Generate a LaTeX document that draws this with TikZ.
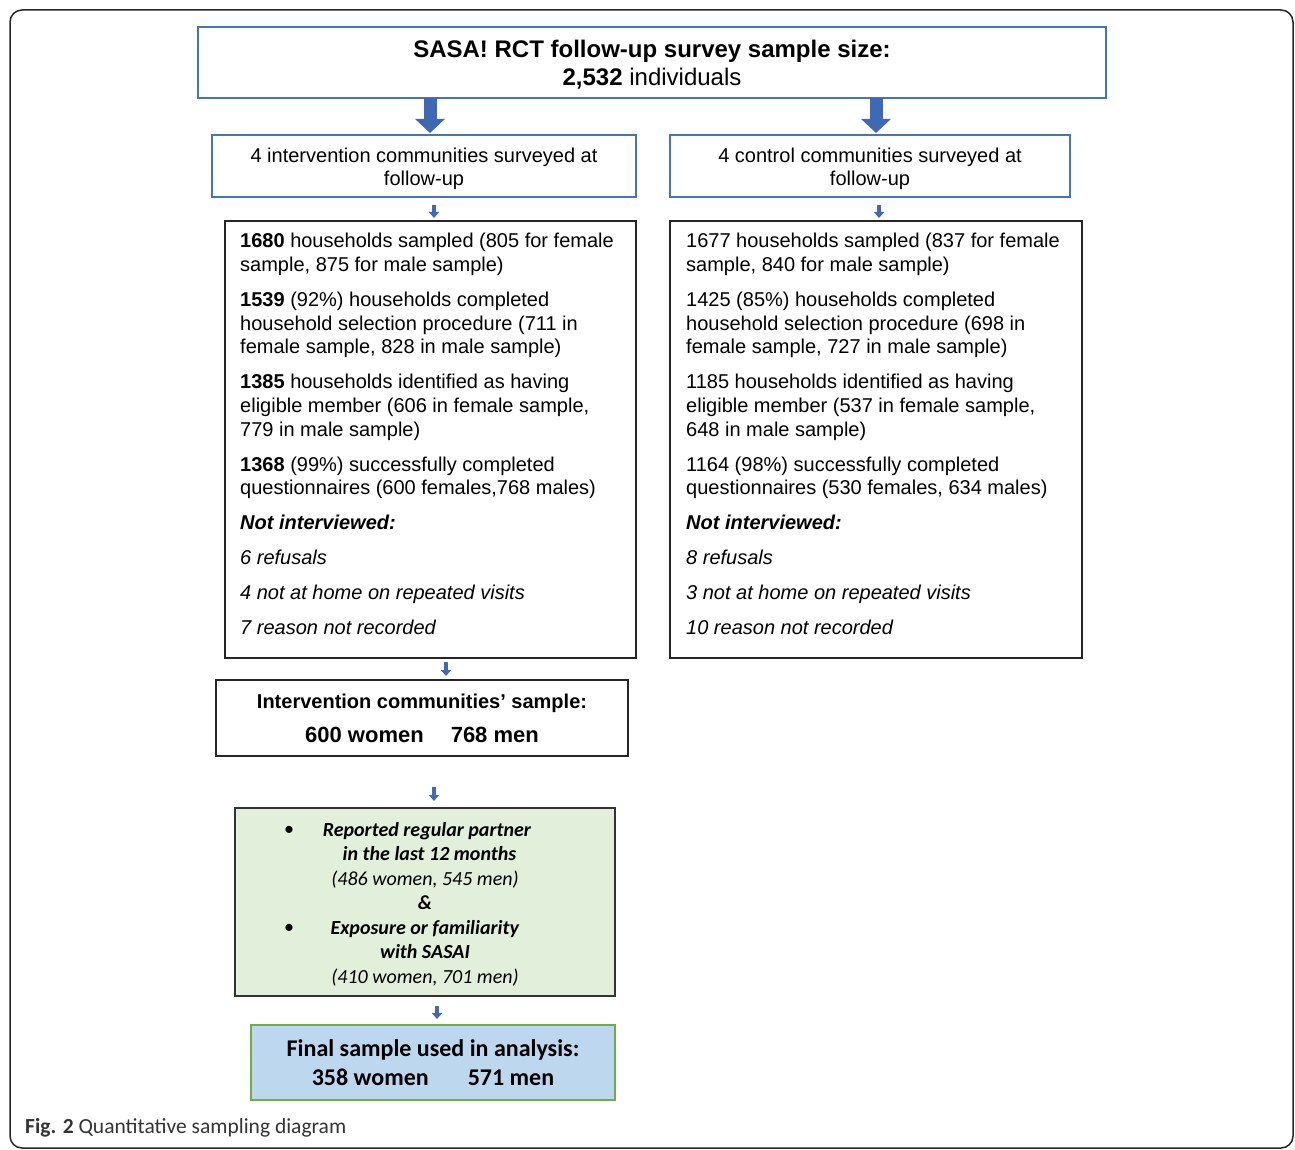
\documentclass[tikz,border=0pt]{standalone}
\usepackage{fontspec}
\setmainfont{Liberation Sans}
\newfontfamily\calib{Carlito}
\usetikzlibrary{arrows.meta,calc}
\definecolor{bblue}{HTML}{4472C4}
\definecolor{arrblue}{HTML}{4069B5}
\definecolor{gfill}{HTML}{E2EFDA}
\definecolor{bfill}{HTML}{BDD7EE}
\definecolor{gborder}{HTML}{70AD47}
\begin{document}
\begin{tikzpicture}[x=1pt,y=-1pt,
 bluebox/.style={draw=bblue, line width=1.2pt, inner sep=0pt, outer sep=0pt},
 blackbox/.style={draw=black!85, line width=1.2pt, inner sep=0pt, outer sep=0pt},
 bigarr/.style={draw=arrblue, line width=13pt, -{Triangle[length=14pt,width=29pt]}},
 smallarr/.style={draw=arrblue, line width=4.5pt, -{Triangle[length=6pt,width=10pt]}},
 body/.style={font=\fontsize{20}{23.8}\selectfont, align=left, anchor=north west, inner sep=0pt},
 label/.style={inner sep=0pt, align=center},
]
\useasboundingbox (0,0) rectangle (1295,1150);
\draw[line width=1.5pt, rounded corners=12pt, black!85] (10,10) rectangle (1293,1148);

\node[bluebox, minimum width=908pt, minimum height=71pt] (top) at (652,62.5) {};
\node[label, font=\fontsize{24}{28}\selectfont] (toptxt) at (652,64.5)
  {\textbf{SASA! RCT follow-up survey sample size:}\\\textbf{2,532} individuals};

\node[bluebox, minimum width=424pt, minimum height=62pt] (int) at (424,166) {};
\node[label, font=\fontsize{20}{23}\selectfont] (inttxt) at (424,169)
  {4 intervention communities surveyed at\\follow-up};
\node[bluebox, minimum width=400pt, minimum height=62pt] (ctl) at (870,166) {};
\node[label, font=\fontsize{20}{23}\selectfont] (ctltxt) at (870,169)
  {4 control communities surveyed at\\follow-up};

\node[blackbox, minimum width=411pt, minimum height=437pt] (ldet) at (430.5,439.5) {};
\node[blackbox, minimum width=412pt, minimum height=437pt] (rdet) at (876,439.5) {};

\node[body] (ltxt) at (240,233) {%
\textbf{1680} households sampled (805 for female\\
sample, 875 for male sample)\\[11pt]
\textbf{1539} (92\%) households completed\\
household selection procedure (711 in\\
female sample, 828 in male sample)\\[11pt]
\textbf{1385} households identified as having\\
eligible member (606 in female sample,\\
779 in male sample)\\[11pt]
\textbf{1368} (99\%) successfully completed\\
questionnaires (600 females,768 males)\\[11pt]
\textbf{\textit{Not interviewed:}}\\[11pt]
\textit{6 refusals}\\[11pt]
\textit{4 not at home on repeated visits}\\[11pt]
\textit{7 reason not recorded}};

\node[body] (rtxt) at (686,233) {%
1677 households sampled (837 for female\\
sample, 840 for male sample)\\[11pt]
1425 (85\%) households completed\\
household selection procedure (698 in\\
female sample, 727 in male sample)\\[11pt]
1185 households identified as having\\
eligible member (537 in female sample,\\
648 in male sample)\\[11pt]
1164 (98\%) successfully completed\\
questionnaires (530 females, 634 males)\\[11pt]
\textbf{\textit{Not interviewed:}}\\[11pt]
\textit{8 refusals}\\[11pt]
\textit{3 not at home on repeated visits}\\[11pt]
\textit{10 reason not recorded}};

\node[blackbox, minimum width=412pt, minimum height=76pt] (samp) at (422,718) {};
\node[label] (samptxt) at (422,718.5)
  {\fontsize{20}{24}\selectfont\textbf{Intervention communities’ sample:}\\[14pt]
   \fontsize{22}{26}\selectfont\textbf{600 women\hspace{27pt}768 men}};

\node[draw=black!80, fill=gfill, line width=1.2pt, inner sep=0pt, outer sep=0pt,
  minimum width=380pt, minimum height=188pt] (grn) at (425,902) {};
\node[label, font=\calib\fontsize{20}{24.5}\selectfont] (grntxt) at (425,904)
  {\textbf{\textit{Reported regular partner}}\hspace*{-4pt}\\
   \textbf{\textit{\ \ in the last 12 months}}\\
   \textit{(486 women, 545 men)}\\
   \textbf{\textit{\&}}\\
   \textbf{\textit{Exposure or familiarity}}\hspace*{16pt}\\
   \textbf{\textit{with SASAI}}\hspace*{12pt}\\
   \textit{(410 women, 701 men)}};
\node[font=\calib\fontsize{20}{24}\selectfont, inner sep=0pt] (b1) at (289,831) {•};
\node[font=\calib\fontsize{20}{24}\selectfont, inner sep=0pt] (b2) at (289,929) {•};

\node[draw=gborder, fill=bfill, line width=1.2pt, inner sep=0pt, outer sep=0pt,
  minimum width=364pt, minimum height=75pt, align=center,
  font=\calib\bfseries\fontsize{24}{29}\selectfont] (fin) at (433,1062.5)
  {Final sample used in analysis:\\358 women\hspace{39pt}571 men};

\node[anchor=base west, inner sep=0pt, font=\calib\fontsize{21.5}{24}\selectfont, text=black!80]
  (cap) at (25,1133) {\textbf{Fig. 2} Quantitative sampling diagram};

% arrows
\draw[bigarr, shorten >=2pt] ($(top.south -| int.north)+(6,0)$) -- ($(int.north)+(6,0)$);
\draw[bigarr, shorten >=2pt] ($(top.south -| ctl.north)+(6,0)$) -- ($(ctl.north)+(6,0)$);
\draw[smallarr, shorten <=8pt, shorten >=3pt] ($(int.south -| ldet.north)+(3.5,0)$) -- ($(ldet.north)+(3.5,0)$);
\draw[smallarr, shorten <=8pt, shorten >=3pt] ($(ctl.south -| rdet.north)+(3,0)$) -- ($(rdet.north)+(3,0)$);
\draw[smallarr, shorten <=4pt, shorten >=4pt] ($(ldet.south -| samp.north)+(24,0)$) -- ($(samp.north)+(24,0)$);
\draw[smallarr, shorten <=31pt, shorten >=7pt] ($(samp.south -| grn.north)+(9,0)$) -- ($(grn.north)+(9,0)$);
\draw[smallarr, shorten <=10pt, shorten >=6pt] ($(grn.south -| fin.north)+(4,0)$) -- ($(fin.north)+(4,0)$);
\end{tikzpicture}
\end{document}
